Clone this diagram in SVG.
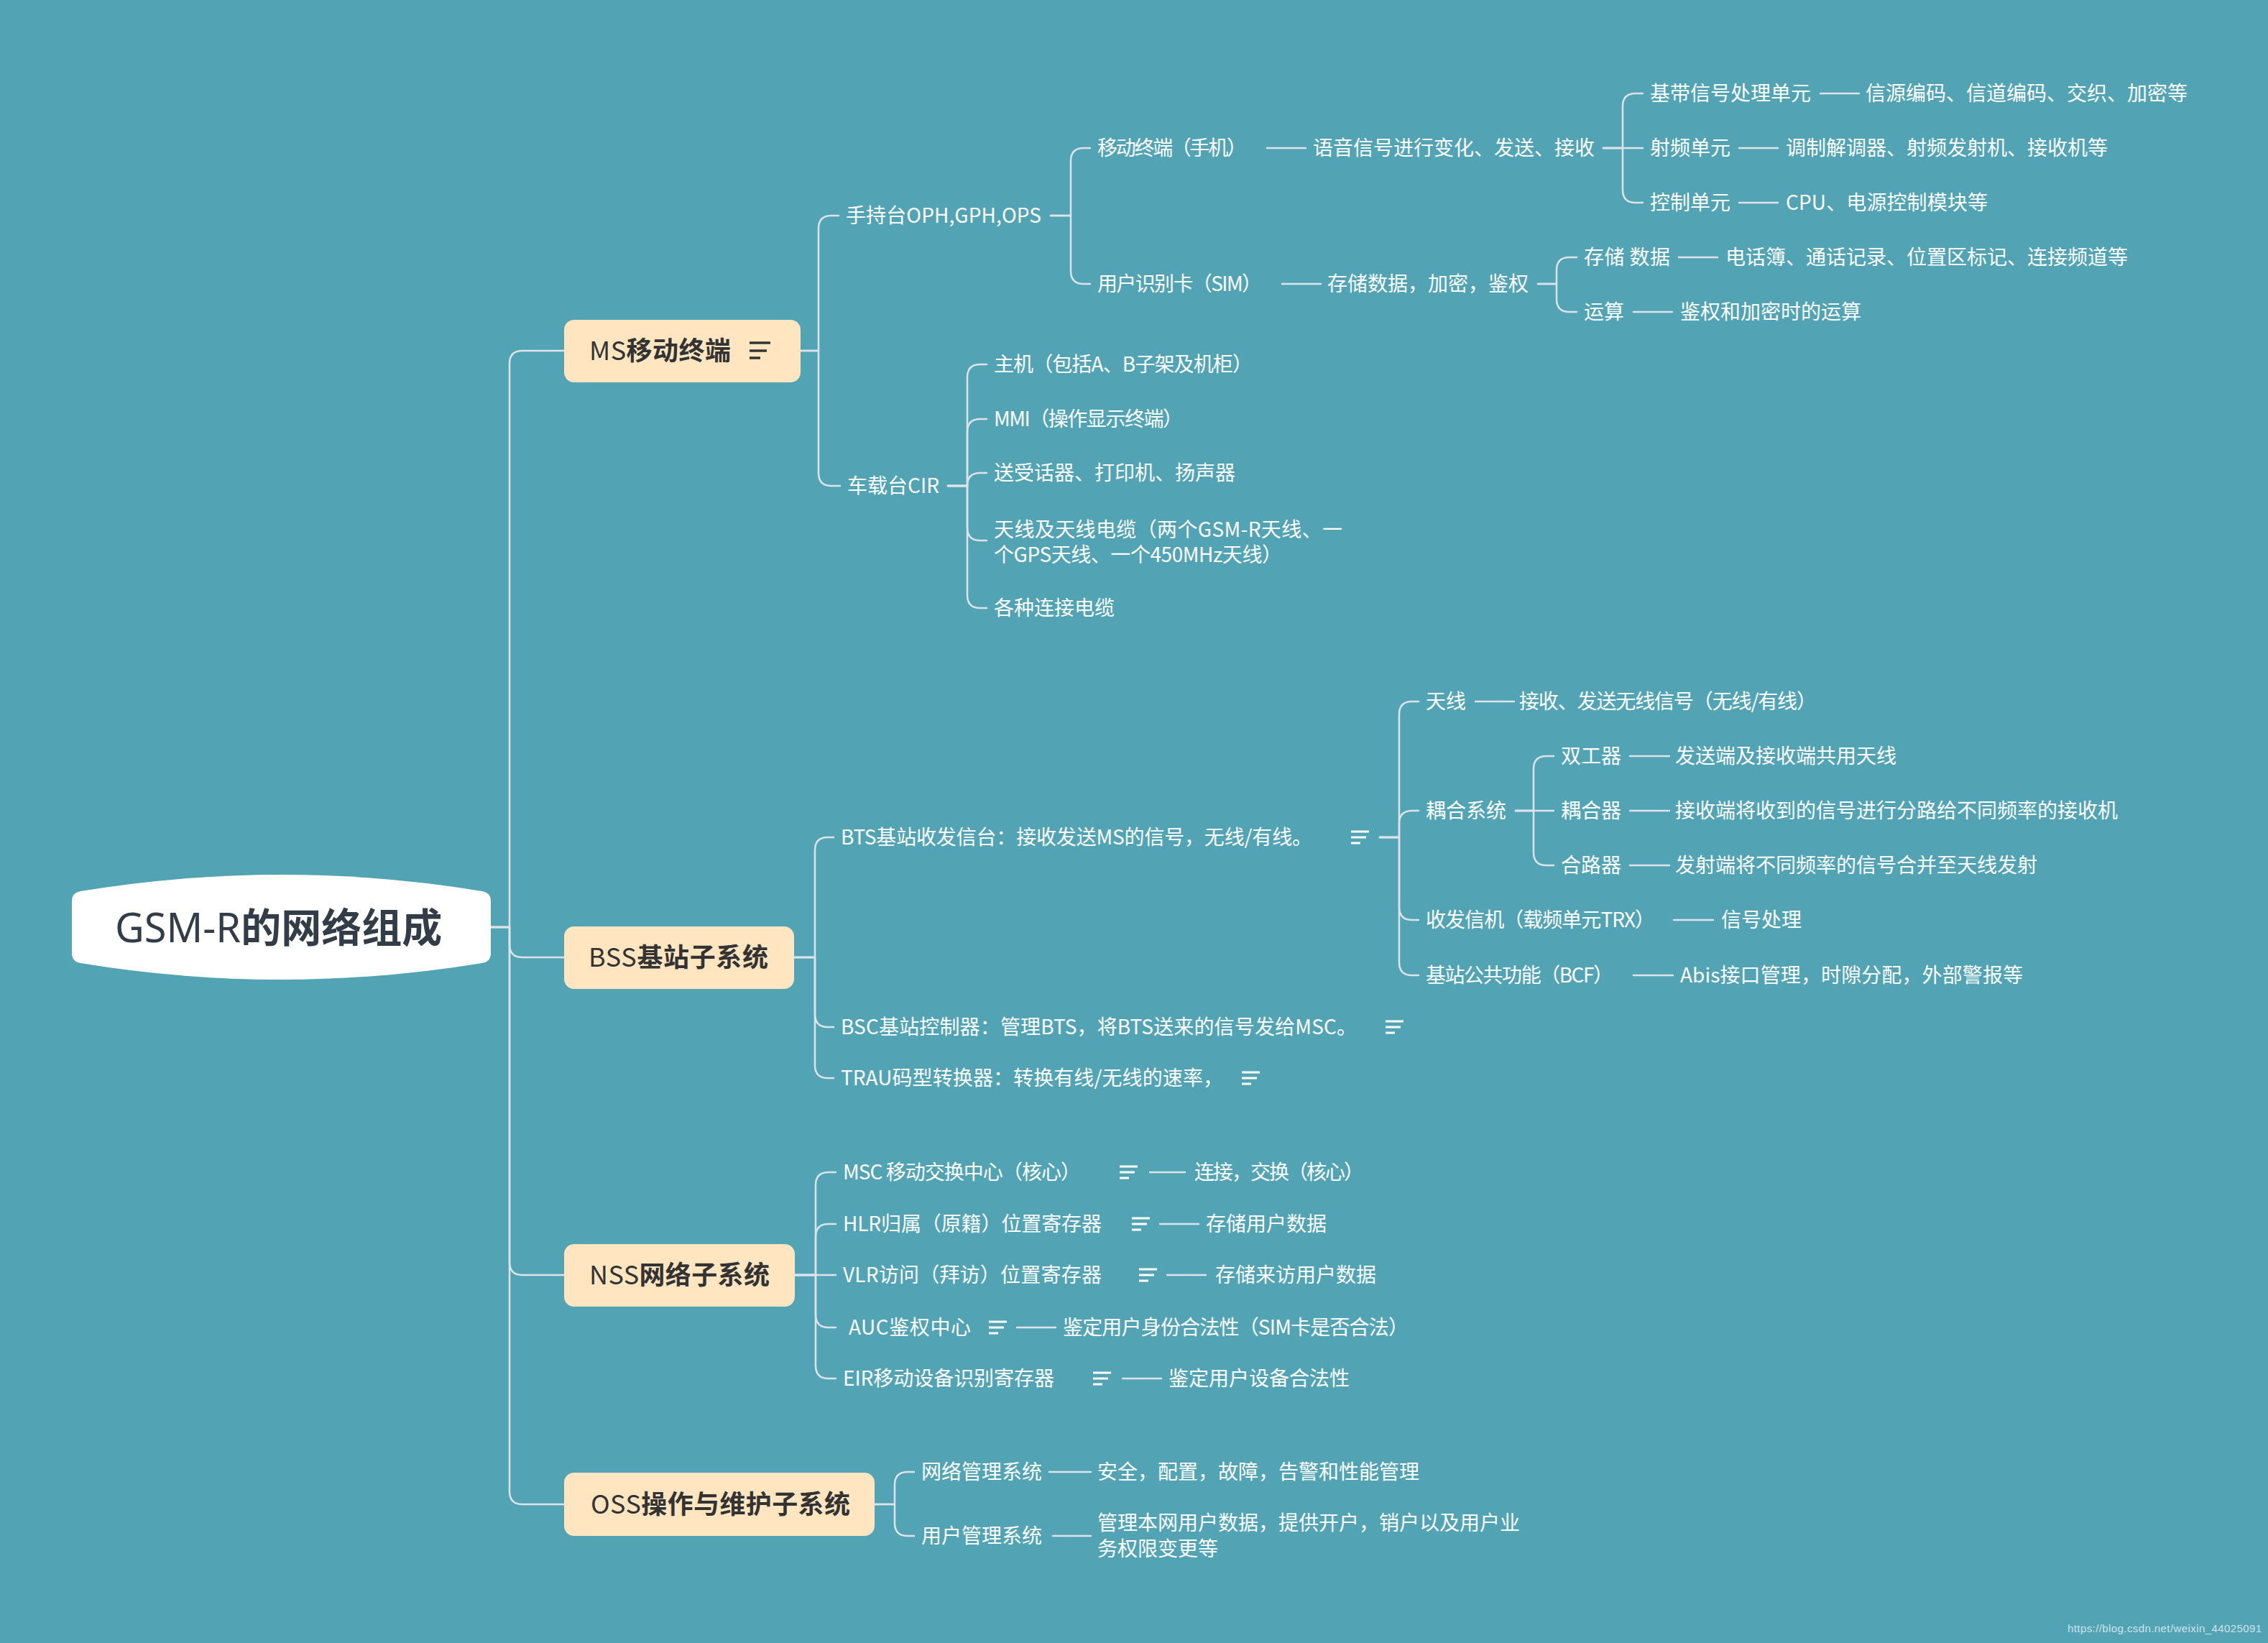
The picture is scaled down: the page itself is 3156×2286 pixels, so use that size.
<svg xmlns="http://www.w3.org/2000/svg" width="3156" height="2286" viewBox="0 0 3156 2286">
<style>
.t{font-family:"Noto Sans CJK SC","Noto Sans",sans-serif;font-size:28px;fill:#ffffff;}
.bt{font-family:"Noto Sans CJK SC","Noto Sans",sans-serif;font-size:36px;fill:#333333;font-weight:700;}
.rt{font-family:"Noto Sans CJK SC","Noto Sans",sans-serif;font-size:56px;fill:#333d48;font-weight:700;}
.lat{font-weight:400;}
.rlat{font-family:"Noto Sans",sans-serif;font-weight:400;}
.c{fill:none;stroke:#dde3e9;stroke-width:2.5;stroke-linecap:round;stroke-linejoin:round;}
.box{fill:#FFE6C0;}
.ic{stroke:#ffffff;stroke-width:3;}
.icd{stroke:#333333;stroke-width:3.5;}
.wm{font-family:"Liberation Sans",Arial,sans-serif;font-size:15px;fill:#cfe3e8;}
</style>
<defs>
<g id="note">
<line class="ic" x1="0" y1="-8" x2="25" y2="-8"/>
<line class="ic" x1="0" y1="0" x2="21" y2="0"/>
<line class="ic" x1="0" y1="8" x2="13" y2="8"/>
</g>
</defs>
<rect x="0" y="0" width="3156" height="2286" fill="#52A4B5"/>

<g id="connectors">
<path class="c" d="M683,1290 H709 V506 Q709,488 727,488 H785"/>
<path class="c" d="M683,1290 H709 V1314 Q709,1332 727,1332 H785"/>
<path class="c" d="M683,1290 H709 V1756 Q709,1774 727,1774 H785"/>
<path class="c" d="M683,1290 H709 V2075 Q709,2093 727,2093 H785"/>

<path class="c" d="M1114,488 H1139 V318 Q1139,300 1157,300 H1167"/>
<path class="c" d="M1114,488 H1139 V658 Q1139,676 1157,676 H1169"/>

<path class="c" d="M1462,300 H1490 V224 Q1490,206 1508,206 H1517"/>
<path class="c" d="M1462,300 H1490 V377 Q1490,395 1508,395 H1517"/>
<path class="c" d="M1763,206 H1817"/>
<path class="c" d="M2231,206 H2258 V148 Q2258,130 2276,130 H2286"/>
<path class="c" d="M2231,206 H2286"/>
<path class="c" d="M2231,206 H2258 V264 Q2258,282 2276,282 H2286"/>
<path class="c" d="M2533,130 H2587"/>
<path class="c" d="M2420,206 H2474"/>
<path class="c" d="M2420,282 H2474"/>
<path class="c" d="M1784,395 H1838"/>
<path class="c" d="M2140,395 H2166 V376 Q2166,358 2184,358 H2194"/>
<path class="c" d="M2140,395 H2166 V416 Q2166,434 2184,434 H2194"/>
<path class="c" d="M2336,358 H2390"/>
<path class="c" d="M2273,434 H2327"/>

<path class="c" d="M1319,676 H1346 V525 Q1346,507 1364,507 H1373"/>
<path class="c" d="M1319,676 H1346 V601 Q1346,583 1364,583 H1373"/>
<path class="c" d="M1319,676 H1346 Q1346,658 1364,658 H1373"/>
<path class="c" d="M1319,676 H1346 V734 Q1346,752 1364,752 H1373"/>
<path class="c" d="M1319,676 H1346 V828 Q1346,846 1364,846 H1373"/>

<path class="c" d="M1105,1332 H1134 V1183 Q1134,1165 1152,1165 H1160"/>
<path class="c" d="M1105,1332 H1134 V1411 Q1134,1429 1152,1429 H1160"/>
<path class="c" d="M1105,1332 H1134 V1482 Q1134,1500 1152,1500 H1160"/>

<path class="c" d="M1920,1165 H1947 V994 Q1947,976 1965,976 H1974"/>
<path class="c" d="M1920,1165 H1947 V1146 Q1947,1128 1965,1128 H1974"/>
<path class="c" d="M1920,1165 H1947 V1262 Q1947,1280 1965,1280 H1974"/>
<path class="c" d="M1920,1165 H1947 V1339 Q1947,1357 1965,1357 H1974"/>
<path class="c" d="M2053,976 H2107"/>
<path class="c" d="M2109,1128 H2134 V1070 Q2134,1052 2152,1052 H2162"/>
<path class="c" d="M2109,1128 H2162"/>
<path class="c" d="M2109,1128 H2134 V1186 Q2134,1204 2152,1204 H2162"/>
<path class="c" d="M2268,1052 H2323"/>
<path class="c" d="M2268,1128 H2323"/>
<path class="c" d="M2268,1204 H2323"/>
<path class="c" d="M2329,1280 H2384"/>
<path class="c" d="M2273,1357 H2328"/>

<path class="c" d="M1106,1774 H1135 V1649 Q1135,1631 1153,1631 H1163"/>
<path class="c" d="M1106,1774 H1135 V1721 Q1135,1703 1153,1703 H1163"/>
<path class="c" d="M1106,1774 H1163"/>
<path class="c" d="M1106,1774 H1135 V1829 Q1135,1847 1153,1847 H1163"/>
<path class="c" d="M1106,1774 H1135 V1900 Q1135,1918 1153,1918 H1163"/>
<path class="c" d="M1600,1631 H1649"/>
<path class="c" d="M1614,1703 H1668"/>
<path class="c" d="M1624,1774 H1678"/>
<path class="c" d="M1415,1847 H1469"/>
<path class="c" d="M1562,1918 H1616"/>

<path class="c" d="M1217,2093 H1245 V2066 Q1245,2048 1263,2048 H1272"/>
<path class="c" d="M1217,2093 H1245 V2119 Q1245,2137 1263,2137 H1272"/>
<path class="c" d="M1460,2048 H1518"/>
<path class="c" d="M1465,2137 H1518"/>
</g>

<g id="n-root">
<path d="M112,1240 Q391.5,1194 671,1240 Q683,1242 683,1254 V1326 Q683,1338 671,1340 Q391.5,1386 112,1340 Q100,1338 100,1326 V1254 Q100,1242 112,1240 Z" fill="#ffffff"/>
<text class="rt" x="160" y="1311"><tspan class="rlat">GSM-R</tspan>的网络组成</text>
</g>

<g id="n-ms">
<rect class="box" x="785" y="445" width="329" height="87" rx="14"/>
<text class="bt" x="820" y="501" textLength="197"><tspan class="lat">MS</tspan>移动终端</text>
<line class="icd" x1="1043" y1="477" x2="1072" y2="477"/>
<line class="icd" x1="1043" y1="488" x2="1067" y2="488"/>
<line class="icd" x1="1043" y1="498" x2="1058" y2="498"/>
</g>
<g id="n-bss">
<rect class="box" x="785" y="1289" width="320" height="87" rx="14"/>
<text class="bt" x="819" y="1345" textLength="250"><tspan class="lat">BSS</tspan>基站子系统</text>
</g>
<g id="n-nss">
<rect class="box" x="785" y="1731" width="321" height="87" rx="14"/>
<text class="bt" x="820" y="1787" textLength="251"><tspan class="lat">NSS</tspan>网络子系统</text>
</g>
<g id="n-oss">
<rect class="box" x="785" y="2049" width="432" height="88" rx="14"/>
<text class="bt" x="822" y="2106" textLength="361"><tspan class="lat">OSS</tspan>操作与维护子系统</text>
</g>

<g id="n-ms-handheld"><text class="t" x="1177" y="310" textLength="272">手持台OPH,GPH,OPS</text></g>
<g id="n-ms-phone"><text class="t" x="1527" y="216" textLength="208">移动终端（手机）</text></g>
<g id="n-ms-phone-d"><text class="t" x="1827" y="216" textLength="392">语音信号进行变化、发送、接收</text></g>
<g id="n-bb"><text class="t" x="2296" y="140" textLength="224">基带信号处理单元</text></g>
<g id="n-bb-d"><text class="t" x="2596" y="140" textLength="448">信源编码、信道编码、交织、加密等</text></g>
<g id="n-rf"><text class="t" x="2296" y="216" textLength="112">射频单元</text></g>
<g id="n-rf-d"><text class="t" x="2485" y="216" textLength="448">调制解调器、射频发射机、接收机等</text></g>
<g id="n-ctl"><text class="t" x="2296" y="292" textLength="112">控制单元</text></g>
<g id="n-ctl-d"><text class="t" x="2485" y="292" textLength="281">CPU、电源控制模块等</text></g>
<g id="n-sim"><text class="t" x="1527" y="405" textLength="229">用户识别卡（SIM）</text></g>
<g id="n-sim-d"><text class="t" x="1847" y="405" textLength="280">存储数据，加密，鉴权</text></g>
<g id="n-store"><text class="t" x="2204" y="368" textLength="120">存储 数据</text></g>
<g id="n-store-d"><text class="t" x="2401" y="368" textLength="560">电话簿、通话记录、位置区标记、连接频道等</text></g>
<g id="n-calc"><text class="t" x="2204" y="444" textLength="56">运算</text></g>
<g id="n-calc-d"><text class="t" x="2338" y="444" textLength="252">鉴权和加密时的运算</text></g>

<g id="n-cir"><text class="t" x="1179" y="686" textLength="128">车载台CIR</text></g>
<g id="n-cir-1"><text class="t" x="1383" y="517" textLength="360">主机（包括A、B子架及机柜）</text></g>
<g id="n-cir-2"><text class="t" x="1383" y="593" textLength="263">MMI（操作显示终端）</text></g>
<g id="n-cir-3"><text class="t" x="1383" y="668" textLength="336">送受话器、打印机、扬声器</text></g>
<g id="n-cir-4"><text class="t" x="1383" y="747" textLength="485">天线及天线电缆（两个GSM-R天线、一</text><text class="t" x="1383" y="782" textLength="401">个GPS天线、一个450MHz天线）</text></g>
<g id="n-cir-5"><text class="t" x="1383" y="856" textLength="168">各种连接电缆</text></g>

<g id="n-bts"><text class="t" x="1170" y="1175" textLength="656">BTS基站收发信台：接收发送MS的信号，无线/有线。</text><use href="#note" x="1880" y="1165"/></g>
<g id="n-bsc"><text class="t" x="1170" y="1439" textLength="718">BSC基站控制器：管理BTS，将BTS送来的信号发给MSC。</text><use href="#note" x="1928" y="1429"/></g>
<g id="n-trau"><text class="t" x="1170" y="1510" textLength="532">TRAU码型转换器：转换有线/无线的速率，</text><use href="#note" x="1728" y="1500"/></g>

<g id="n-ant"><text class="t" x="1984" y="986" textLength="56">天线</text></g>
<g id="n-ant-d"><text class="t" x="2114" y="986" textLength="414">接收、发送无线信号（无线/有线）</text></g>
<g id="n-cpl"><text class="t" x="1984" y="1138" textLength="112">耦合系统</text></g>
<g id="n-dup"><text class="t" x="2172" y="1062" textLength="84">双工器</text></g>
<g id="n-dup-d"><text class="t" x="2331" y="1062" textLength="308">发送端及接收端共用天线</text></g>
<g id="n-cop"><text class="t" x="2172" y="1138" textLength="84">耦合器</text></g>
<g id="n-cop-d"><text class="t" x="2331" y="1138" textLength="616">接收端将收到的信号进行分路给不同频率的接收机</text></g>
<g id="n-cmb"><text class="t" x="2172" y="1214" textLength="84">合路器</text></g>
<g id="n-cmb-d"><text class="t" x="2331" y="1214" textLength="504">发射端将不同频率的信号合并至天线发射</text></g>
<g id="n-trx"><text class="t" x="1984" y="1290" textLength="319">收发信机（载频单元TRX）</text></g>
<g id="n-trx-d"><text class="t" x="2395" y="1290" textLength="112">信号处理</text></g>
<g id="n-bcf"><text class="t" x="1984" y="1367" textLength="261">基站公共功能（BCF）</text></g>
<g id="n-bcf-d"><text class="t" x="2338" y="1367" textLength="477">Abis接口管理，时隙分配，外部警报等</text></g>

<g id="n-msc"><text class="t" x="1173" y="1641" textLength="331">MSC 移动交换中心（核心）</text><use href="#note" x="1558" y="1631"/></g>
<g id="n-msc-d"><text class="t" x="1662" y="1641" textLength="236">连接，交换（核心）</text></g>
<g id="n-hlr"><text class="t" x="1173" y="1713" textLength="360">HLR归属（原籍）位置寄存器</text><use href="#note" x="1575" y="1703"/></g>
<g id="n-hlr-d"><text class="t" x="1678" y="1713" textLength="168">存储用户数据</text></g>
<g id="n-vlr"><text class="t" x="1173" y="1784" textLength="360">VLR访问（拜访）位置寄存器</text><use href="#note" x="1585" y="1774"/></g>
<g id="n-vlr-d"><text class="t" x="1691" y="1784" textLength="224">存储来访用户数据</text></g>
<g id="n-auc"><text class="t" x="1181" y="1857" textLength="170">AUC鉴权中心</text><use href="#note" x="1376" y="1847"/></g>
<g id="n-auc-d"><text class="t" x="1479" y="1857" textLength="481">鉴定用户身份合法性（SIM卡是否合法）</text></g>
<g id="n-eir"><text class="t" x="1173" y="1928" textLength="294">EIR移动设备识别寄存器</text><use href="#note" x="1521" y="1918"/></g>
<g id="n-eir-d"><text class="t" x="1626" y="1928" textLength="252">鉴定用户设备合法性</text></g>

<g id="n-nms"><text class="t" x="1282" y="2058" textLength="168">网络管理系统</text></g>
<g id="n-nms-d"><text class="t" x="1527" y="2058" textLength="448">安全，配置，故障，告警和性能管理</text></g>
<g id="n-ums"><text class="t" x="1282" y="2147" textLength="168">用户管理系统</text></g>
<g id="n-ums-d"><text class="t" x="1527" y="2129" textLength="588">管理本网用户数据，提供开户，销户以及用户业</text><text class="t" x="1527" y="2165" textLength="168">务权限变更等</text></g>

<text class="wm" x="2877" y="2271" textLength="270">https://blog.csdn.net/weixin_44025091</text>
</svg>
